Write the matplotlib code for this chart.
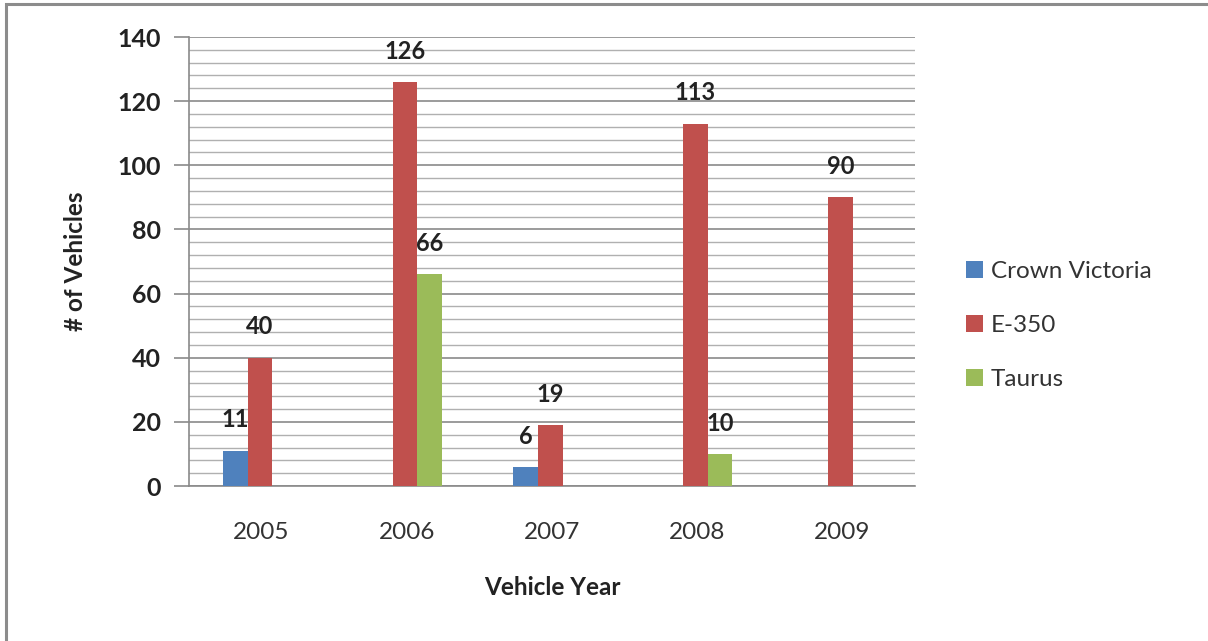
import matplotlib
matplotlib.use("Agg")
import matplotlib.pyplot as plt
import numpy as np
from matplotlib.patches import Rectangle

years = ["2005", "2006", "2007", "2008", "2009"]
crown_victoria = [11, 0, 6, 0, 0]
e350 = [40, 126, 19, 113, 90]
taurus = [0, 66, 0, 10, 0]
series_names = ["Crown Victoria", "E-350", "Taurus"]
colors = ["#4F81BD", "#C0504D", "#9BBB59"]

plt.rcParams['font.family'] = ['Lato', 'DejaVu Sans']

W, H = 1208, 641
fig = plt.figure(figsize=(W / 100, H / 100), dpi=100)
fig.patches.append(Rectangle((6 / W, -0.1), 1.2, (H - 4) / H + 0.1, transform=fig.transFigure,
                             fill=False, edgecolor="#8c8c8c", linewidth=2.2))

ax = fig.add_axes([189 / W, 1 - 486 / H, (915 - 189) / W, (486 - 37) / H])
x = np.arange(len(years))
bw = 0.17
all_series = [crown_victoria, e350, taurus]
for i, (vals, c, name) in enumerate(zip(all_series, colors, series_names)):
    pos = x + (i - 1) * bw - 0.012
    ax.bar(pos, vals, width=bw, color=c, label=name, zorder=3)
    for p, v in zip(pos, vals):
        if v > 0:
            ax.text(p, v + 6.0, str(v), ha="center", va="bottom", fontsize=17,
                    fontweight="bold", color="#222222", zorder=4)

ax.set_xlim(-0.5, 4.5)
ax.set_ylim(0, 140)
ax.set_yticks(np.arange(0, 141, 20))
ax.set_yticks(np.arange(0, 141, 4), minor=True)
ax.grid(axis="y", which="major", color="#8a8a8a", linewidth=1.2, zorder=0)
ax.grid(axis="y", which="minor", color="#b0b0b0", linewidth=1.0, zorder=0)
ax.set_xticks(x)
ax.set_xticklabels(years, fontsize=17.5, color="#333333")
ax.tick_params(axis="x", length=0, pad=26)
ax.tick_params(axis="y", which="major", length=11, color="#8a8a8a", width=1.2, labelsize=18, pad=9)
ax.tick_params(axis="y", which="minor", length=0)
for lbl in ax.get_yticklabels():
    lbl.set_fontweight("bold")
    lbl.set_color("#222222")
for s in ["top", "right"]:
    ax.spines[s].set_visible(False)
ax.spines["left"].set_color("#8a8a8a")
ax.spines["bottom"].set_color("#8a8a8a")
ax.spines["left"].set_linewidth(1.2)
ax.spines["bottom"].set_linewidth(1.2)

ax.set_xlabel("Vehicle Year", fontsize=17.5, fontweight="bold", color="#222222", labelpad=24)
ax.set_ylabel("# of Vehicles", fontsize=17.5, fontweight="bold", color="#222222", labelpad=22)

leg = fig.legend(loc="upper left", bbox_to_anchor=(947 / W, 1 - 242 / H), frameon=False,
                 fontsize=17.5, handlelength=0.7, handleheight=0.7, handletextpad=0.3,
                 labelspacing=1.35, labelcolor="#333333", borderpad=0.3)

fig.savefig("out.png", dpi=100, facecolor="white")
